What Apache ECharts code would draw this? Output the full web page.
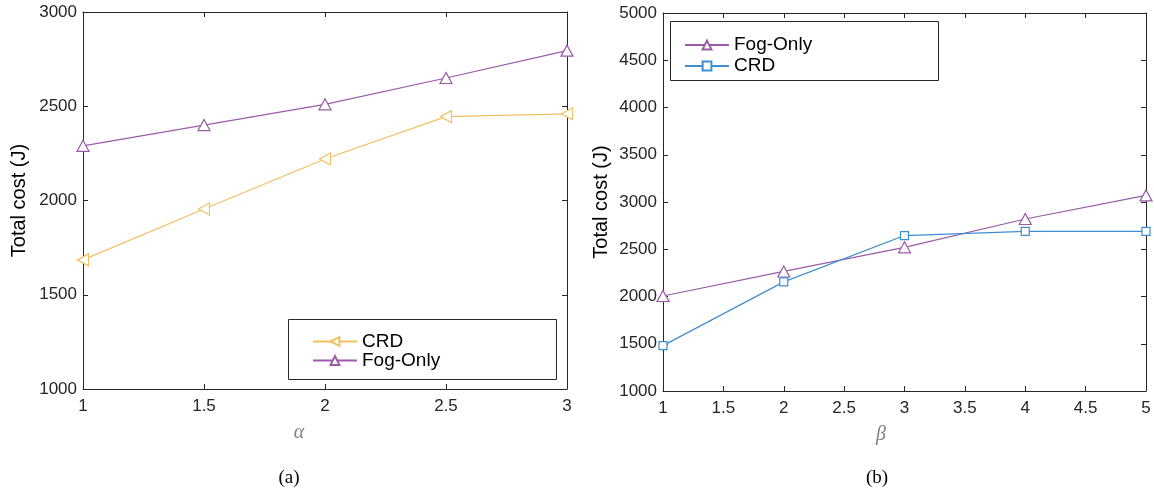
<!DOCTYPE html>
<html>
<head>
<meta charset="utf-8">
<script src="https://cdn.jsdelivr.net/npm/echarts@6/dist/echarts.min.js"></script>
<style>html,body{margin:0;padding:0;background:#fff;}#c{width:1154px;height:490px;}</style>
</head>
<body>
<div id="c"></div>
<script>
// ---- data ----
var alphaValues = [1, 1.5, 2, 2.5, 3];
var crdAlpha = [1685, 1955, 2220, 2445, 2460];
var fogAlpha = [2290, 2400, 2510, 2650, 2795];
var betaValues = [1, 2, 3, 4, 5];
var fogBeta = [2005, 2265, 2520, 2820, 3070];
var crdBeta = [1480, 2155, 2645, 2690, 2690];
var seriesNames = ['CRD', 'Fog-Only'];
var yTitle = 'Total cost (J)';
var captions = ['(a)', '(b)'];
var xTitles = ['\u03B1', '\u03B2'];

function pairs(xs, ys) { return xs.map(function (x, i) { return [x, ys[i]]; }); }

var PURPLE = '#9b5ba9', ORANGE = '#f3c062', BLUE = '#3d8fd1', AX = '#262626';
var SANS = '"Liberation Sans", Arial, sans-serif';
var SERIF = '"Liberation Serif", "DejaVu Serif", serif';
function plain(v) { return String(v); }

function xAx(grid, min, max, pos, show) {
  return {
    type: 'value', gridIndex: grid, min: min, max: max, interval: 0.5, position: pos,
    axisLine: { show: true, onZero: false, lineStyle: { color: AX, width: 1 } },
    axisTick: { show: true, inside: true, length: 5, lineStyle: { color: AX } },
    axisLabel: { show: show, color: AX, fontFamily: SANS, fontSize: 17, margin: 9, formatter: plain },
    splitLine: { show: false }
  };
}
function yAx(grid, min, max, pos, show, name, gap) {
  return {
    type: 'value', gridIndex: grid, min: min, max: max, interval: 500, position: pos,
    name: show ? name : '', nameLocation: 'middle', nameGap: gap,
    nameTextStyle: { color: '#000', fontFamily: SANS, fontSize: 20 },
    axisLine: { show: true, onZero: false, lineStyle: { color: AX, width: 1 } },
    axisTick: { show: true, inside: true, length: 5, lineStyle: { color: AX } },
    axisLabel: { show: show, color: AX, fontFamily: SANS, fontSize: 17, margin: 6, formatter: plain },
    splitLine: { show: false }
  };
}
function line(name, data, color, symbol, size, rot, xi, yi) {
  return {
    type: 'line', name: name, data: data, xAxisIndex: xi, yAxisIndex: yi,
    symbol: symbol, symbolSize: size, symbolRotate: rot, showSymbol: true,
    lineStyle: { color: color, width: 1.2 },
    itemStyle: { color: '#fff', borderColor: color, borderWidth: 1.2 },
    emphasis: { disabled: true }, animation: false, z: 3
  };
}

var chart = echarts.init(document.getElementById('c'), null, { renderer: 'canvas' });
chart.setOption({
  backgroundColor: '#fff',
  animation: false,
  grid: [
    { left: 83, right: 587, top: 12, bottom: 101 },
    { left: 663, right: 8, top: 13, bottom: 99 }
  ],
  xAxis: [
    xAx(0, 1, 3, 'bottom', true),
    xAx(0, 1, 3, 'top', false),
    xAx(1, 1, 5, 'bottom', true),
    xAx(1, 1, 5, 'top', false)
  ],
  yAxis: [
    yAx(0, 1000, 3000, 'left', true, yTitle, 54),
    yAx(0, 1000, 3000, 'right', false, '', 0),
    yAx(1, 1000, 5000, 'left', true, yTitle, 52),
    yAx(1, 1000, 5000, 'right', false, '', 0)
  ],
  legend: [
    {
      data: [seriesNames[0], seriesNames[1] + ' '], orient: 'vertical', left: 307, top: 327,
      itemWidth: 44, itemHeight: 11, itemGap: 0,
      textStyle: { fontFamily: SANS, fontSize: 19, color: '#000', lineHeight: 19, padding: [0, 0, 0, 0] }
    },
    {
      data: [seriesNames[1], seriesNames[0] + ' '], orient: 'vertical', left: 679, top: 30,
      itemWidth: 44, itemHeight: 11, itemGap: 1,
      textStyle: { fontFamily: SANS, fontSize: 19, color: '#000', lineHeight: 20, padding: [0, 0, 0, 0] }
    }
  ],
  series: [
    line(seriesNames[0], pairs(alphaValues, crdAlpha), ORANGE, 'triangle', [12, 11], 90, 0, 0),
    line(seriesNames[1] + ' ', pairs(alphaValues, fogAlpha), PURPLE, 'triangle', [12, 11], 0, 0, 0),
    line(seriesNames[1], pairs(betaValues, fogBeta), PURPLE, 'triangle', [12, 11], 0, 2, 2),
    line(seriesNames[0] + ' ', pairs(betaValues, crdBeta), BLUE, 'rect', [8, 8], 0, 2, 2)
  ],
  graphic: [
    { type: 'rect', shape: { x: 288.5, y: 319.5, width: 268, height: 60 }, style: { fill: '#fff', stroke: AX, lineWidth: 1 }, z: 1 },
    { type: 'rect', shape: { x: 670.5, y: 21.5, width: 268, height: 59 }, style: { fill: '#fff', stroke: AX, lineWidth: 1 }, z: 1 },
    { type: 'text', x: 299, y: 433, style: { text: xTitles[0], font: 'italic 20px ' + SERIF, fill: '#808080', textAlign: 'center', textVerticalAlign: 'middle' } },
    { type: 'text', x: 881, y: 435, style: { text: xTitles[1], font: 'italic 20px ' + SERIF, fill: '#808080', textAlign: 'center', textVerticalAlign: 'middle' } },
    { type: 'text', x: 289, y: 478, style: { text: captions[0], font: '19px ' + SERIF, fill: '#000', textAlign: 'center', textVerticalAlign: 'middle' } },
    { type: 'text', x: 877, y: 478, style: { text: captions[1], font: '19px ' + SERIF, fill: '#000', textAlign: 'center', textVerticalAlign: 'middle' } }
  ]
});
</script>
</body>
</html>
